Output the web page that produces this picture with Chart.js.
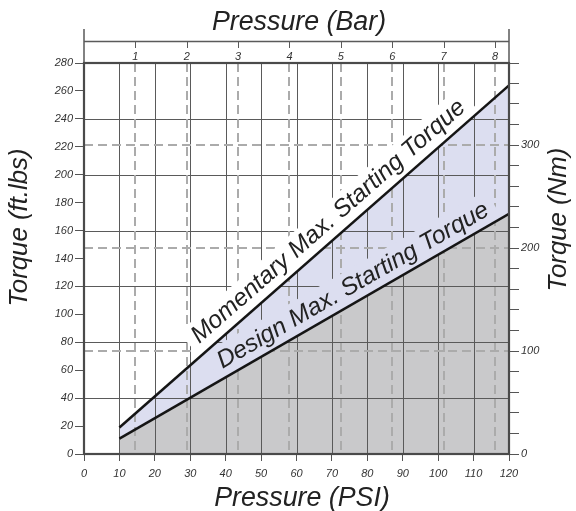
<!DOCTYPE html>
<html>
<head>
<meta charset="utf-8">
<script src="https://cdn.jsdelivr.net/npm/chart.js@4.4.1/dist/chart.umd.min.js"></script>
<style>
  html, body { margin: 0; padding: 0; background: #fff; }
  #wrap { width: 576px; height: 511px; position: relative; }
</style>
</head>
<body>
<div id="wrap"><canvas id="torqueChart"></canvas></div>
<script>
// readings
const psi = [10, 120];
const momentaryTorque = [19, 264];   // ft.lbs
const designTorque = [11, 172];      // ft.lbs
const barTicks = [0, 1, 2, 3, 4, 5, 6, 7, 8];
const nmTicks = [0, 20, 40, 60, 80, 100, 120, 140, 160, 180, 200, 220, 240, 260, 280, 300, 320, 340, 360];
const nmLabels = [0, 100, 200, 300];
const nmGuides = [100, 200, 300];

const PSI_PER_BAR = 14.5038;
const NM_PER_FTLB = 1.35582;

const FONT = '"Liberation Sans", Arial, Helvetica, sans-serif';
const BAND = "#dcdef0";
const GRAY = "#c9c9cb";

const toPoints = (ys) => psi.map((p, i) => ({ x: p, y: ys[i] }));

function drawGrid(chart) {
  const { ctx, chartArea: a, scales } = chart;
  const { x, y, yNm, xBar } = scales;
  ctx.save();
  ctx.beginPath();
  ctx.rect(a.left, a.top, a.right - a.left, a.bottom - a.top);
  ctx.clip();

  // solid grid
  ctx.strokeStyle = "#5a5a5a";
  ctx.lineWidth = 1;
  ctx.beginPath();
  x.ticks.forEach((t) => {
    if (t.value <= 0 || t.value >= 120) return;
    const px = Math.round(x.getPixelForValue(t.value)) + 0.5;
    ctx.moveTo(px, a.top);
    ctx.lineTo(px, a.bottom);
  });
  y.ticks.forEach((t) => {
    if (t.value <= 0 || t.value >= 280 || t.value % 40 !== 0) return;
    const py = Math.round(y.getPixelForValue(t.value)) + 0.5;
    ctx.moveTo(a.left, py);
    ctx.lineTo(a.right, py);
  });
  ctx.stroke();

  // dashed guides for bar and Nm
  ctx.strokeStyle = "#ababab";
  ctx.lineWidth = 2;
  ctx.setLineDash([9, 5]);
  ctx.beginPath();
  barTicks.forEach((b) => {
    if (b === 0) return;
    const px = Math.round(xBar.getPixelForValue(b));
    ctx.moveTo(px, a.top);
    ctx.lineTo(px, a.bottom);
  });
  nmGuides.forEach((n) => {
    const py = Math.round(yNm.getPixelForValue(n));
    ctx.moveTo(a.left, py);
    ctx.lineTo(a.right, py);
  });
  ctx.stroke();
  ctx.restore();
}

function lineLabel(chart, ys, frac, text, offset, boxH, boxColor) {
  const { ctx, scales: { x, y } } = chart;
  const x0 = x.getPixelForValue(psi[0]);
  const y0 = y.getPixelForValue(ys[0]);
  const x1 = x.getPixelForValue(psi[1]);
  const y1 = y.getPixelForValue(ys[1]);
  const ang = Math.atan2(y1 - y0, x1 - x0);
  const px = x0 + frac * (x1 - x0);
  const py = y0 + frac * (y1 - y0);
  ctx.save();
  ctx.translate(px, py);
  ctx.rotate(ang);
  ctx.font = "italic 24.5px " + FONT;
  const w = ctx.measureText(text).width;
  ctx.fillStyle = boxColor;
  ctx.fillRect(-w / 2 - 8, -boxH, w + 16, boxH);
  ctx.fillStyle = "#222";
  ctx.textAlign = "center";
  ctx.textBaseline = "alphabetic";
  ctx.fillText(text, 0, -offset);
  ctx.restore();
}

function drawFrame(chart) {
  const { ctx, chartArea: a, scales: { xBar } } = chart;
  ctx.save();
  // upper bar-axis box
  ctx.strokeStyle = "#5a5a5a";
  ctx.lineWidth = 1.5;
  ctx.beginPath();
  ctx.moveTo(a.left, 29);
  ctx.lineTo(a.left, a.top);
  ctx.moveTo(a.right, 29);
  ctx.lineTo(a.right, a.top);
  ctx.moveTo(a.left, 41.5);
  ctx.lineTo(a.right, 41.5);
  ctx.stroke();
  ctx.lineWidth = 1;
  ctx.beginPath();
  barTicks.forEach((b) => {
    if (b === 0) return;
    const px = Math.round(xBar.getPixelForValue(b)) + 0.5;
    ctx.moveTo(px, 41.5);
    ctx.lineTo(px, 48);
  });
  ctx.stroke();
  // plot border
  ctx.strokeStyle = "#4a4a4a";
  ctx.lineWidth = 2.2;
  ctx.strokeRect(a.left, a.top, a.right - a.left, a.bottom - a.top);

  // axis titles
  ctx.fillStyle = "#222";
  ctx.textAlign = "center";
  ctx.textBaseline = "alphabetic";
  ctx.font = "italic 26.8px " + FONT;
  ctx.fillText("Pressure (Bar)", 299, 30);
  ctx.fillText("Pressure (PSI)", 302, 506);
  ctx.font = "italic 25.8px " + FONT;
  ctx.save();
  ctx.translate(27, 227.5);
  ctx.rotate(-Math.PI / 2);
  ctx.fillText("Torque (ft.lbs)", 0, 0);
  ctx.restore();
  ctx.save();
  ctx.translate(566, 219.5);
  ctx.rotate(-Math.PI / 2);
  ctx.fillText("Torque (Nm)", 0, 0);
  ctx.restore();
  ctx.restore();
}

const overlay = {
  id: "overlay",
  afterDatasetDraw(chart, args) {
    if (args.index !== 1) return;
    drawGrid(chart);
    lineLabel(chart, momentaryTorque, 0.565, "Momentary Max. Starting Torque", 10, 32, "#ffffff");
    lineLabel(chart, designTorque, 0.62, "Design Max. Starting Torque", 9, 32, BAND);
  },
  afterDatasetsDraw(chart) {
    drawFrame(chart);
  },
};

const tickFont = { family: FONT, size: 11, style: "italic" };

new Chart(document.getElementById("torqueChart"), {
  type: "line",
  data: {
    datasets: [
      {
        label: "Design area",
        data: toPoints(designTorque),
        fill: "origin",
        backgroundColor: GRAY,
        borderColor: "transparent",
        borderWidth: 0,
        pointRadius: 0,
        order: 4,
      },
      {
        label: "Momentary area",
        data: toPoints(momentaryTorque),
        fill: "-1",
        backgroundColor: BAND,
        borderColor: "transparent",
        borderWidth: 0,
        pointRadius: 0,
        order: 3,
      },
      {
        label: "Momentary Max. Starting Torque",
        data: toPoints(momentaryTorque),
        fill: false,
        borderColor: "#151515",
        borderWidth: 2.5,
        pointRadius: 0,
        order: 1,
      },
      {
        label: "Design Max. Starting Torque",
        data: toPoints(designTorque),
        fill: false,
        borderColor: "#151515",
        borderWidth: 2.5,
        pointRadius: 0,
        order: 1,
      },
    ],
  },
  options: {
    responsive: true,
    maintainAspectRatio: false,
    animation: false,
    layout: { padding: 0 },
    plugins: { legend: { display: false }, tooltip: { enabled: false } },
    scales: {
      x: {
        type: "linear",
        position: "bottom",
        min: 0,
        max: 120,
        ticks: { stepSize: 10, font: tickFont, color: "#333", padding: 6, maxRotation: 0, autoSkip: false },
        grid: { drawOnChartArea: false, tickLength: 7, tickColor: "#555" },
        border: { display: false },
        afterFit: (s) => { s.height = 57; },
      },
      y: {
        type: "linear",
        position: "left",
        min: 0,
        max: 280,
        ticks: { stepSize: 20, font: tickFont, color: "#333", padding: 2, autoSkip: false },
        grid: { drawOnChartArea: false, tickLength: 9, tickColor: "#555" },
        border: { display: false },
        afterFit: (s) => { s.width = 84; },
      },
      yNm: {
        type: "linear",
        position: "right",
        min: 0,
        max: 280 * NM_PER_FTLB,
        afterBuildTicks: (s) => {
          s.ticks = nmTicks.map((v) => ({ value: v })).concat([{ value: s.max }]);
        },
        ticks: {
          font: tickFont,
          color: "#333",
          padding: 2,
          autoSkip: false,
          callback: (v) => (nmLabels.includes(v) ? String(v) : ""),
        },
        grid: { drawOnChartArea: false, tickLength: 10, tickColor: "#555" },
        border: { display: false },
        afterFit: (s) => { s.width = 67; },
      },
      xBar: {
        type: "linear",
        position: "top",
        min: 0,
        max: 120 / PSI_PER_BAR,
        afterBuildTicks: (s) => {
          s.ticks = barTicks.map((v) => ({ value: v }));
        },
        ticks: {
          font: tickFont,
          color: "#333",
          padding: -1,
          maxRotation: 0,
          autoSkip: false,
          callback: (v) => (v === 0 ? "" : String(v)),
        },
        grid: { drawOnChartArea: false, drawTicks: false },
        border: { display: false },
        afterFit: (s) => { s.height = 63; },
      },
    },
  },
  plugins: [overlay],
});
</script>
</body>
</html>
